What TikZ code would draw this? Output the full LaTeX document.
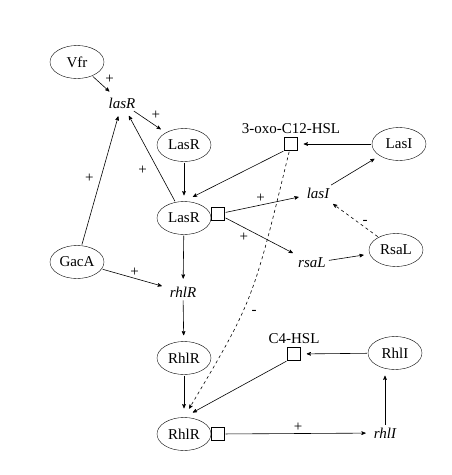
\documentclass[tikz,border=0pt]{standalone}
\usepackage{fontspec}
\setmainfont{Liberation Serif}
\usetikzlibrary{arrows,shapes.geometric}

\begin{document}
\begin{tikzpicture}[x=1pt, y=-1pt, >=stealth',
    font=\fontsize{15}{18}\selectfont,
    prot/.style={ellipse, draw, minimum width=54pt, minimum height=33pt,
                 inner sep=0pt},
    gene/.style={font=\fontsize{15}{18}\selectfont\itshape, inner sep=2pt},
    sig/.style={rectangle, draw, minimum size=13pt, inner sep=0pt},
    arrow/.style={->, line width=0.6pt, shorten >=6pt, shorten <=1pt},
    inhib/.style={arrow, dashed},
    sign/.style={inner sep=2pt}]
    \useasboundingbox (0,0) rectangle (451,475);
    % proteins and genes
    \node[prot] (vfr) at (77,62) {Vfr};
    \node[gene] (lasRg) at (122,103) {lasR};
    \node[prot] (lasR) at (184,145) {LasR};
    \node[prot] (lasRa) at (184,218) {LasR};
    \node[sig] (lasRsq) at (218,214) {};
    \node[sig] (oxo) at (291,144) {};
    \node[above] (oxolbl) at (oxo.north) {3-oxo-C12-HSL};
    \node[prot] (lasI) at (399,144) {LasI};
    \node[gene] (lasIg) at (318,193) {lasI};
    \node[prot] (rsaL) at (396,250) {RsaL};
    \node[gene] (rsaLg) at (312,263) {rsaL};
    \node[prot] (gacA) at (77,262) {GacA};
    \node[gene] (rhlRg) at (183,292) {rhlR};
    \node[prot] (rhlR) at (184,358) {RhlR};
    \node[sig] (c4) at (294,354) {};
    \node[above] (c4lbl) at (c4.north) {C4-HSL};
    \node[prot] (rhlI) at (395,353) {RhlI};
    \node[prot] (rhlRa) at (184,434) {RhlR};
    \node[sig] (rhlRsq) at (218,434) {};
    \node[gene] (rhlIg) at (385,433) {rhlI};
    % las system
    \draw[arrow] (vfr) -- node[sign, above right] {+} (lasRg);
    \draw[arrow] (lasRg) -- node[sign, above right] {+} (lasR);
    \draw[arrow] (lasR) -- (lasRa);
    \draw[arrow, shorten >=10pt] (oxo.south west) -- (lasRa.north);
    \draw[arrow] (lasI) -- (oxo);
    \draw[arrow] (lasRa) -- node[sign, pos=0.35, left=9pt] {+} (lasRg);
    \draw[arrow] (gacA) -- node[sign, left=5pt] {+} (lasRg);
    \draw[arrow] (lasRsq) -- node[sign, pos=0.45, above] {+} (lasIg);
    \draw[arrow] (lasRsq) -- node[sign, pos=0.35, below left] {+} (rsaLg);
    \draw[arrow] (lasIg) -- (lasI);
    \draw[arrow] (rsaLg) -- (rsaL);
    \draw[inhib] (rsaL) -- node[sign, pos=0.4, right=2pt] {-} (lasIg);
    % rhl system
    \draw[arrow] (gacA) -- node[sign, above] {+} (rhlRg);
    \draw[arrow] (lasRa) -- (rhlRg);
    \draw[arrow] (rhlRg) -- (rhlR);
    \draw[arrow, shorten >=9pt] (rhlR) -- (rhlRa);
    \draw[inhib, shorten >=10pt] (oxo) .. controls (253,301) .. node[sign, pos=0.58, right=7pt] {-} (rhlRa.north);
    \draw[arrow, shorten >=10pt] (c4.south west) -- (rhlRa.north);
    \draw[arrow] (rhlI) -- (c4);
    \draw[arrow] (rhlIg.north) -- (rhlIg.north |- rhlI.south);
    \draw[arrow] (rhlRsq) -- node[sign, above] {+} (rhlIg);
\end{tikzpicture}
\end{document}
